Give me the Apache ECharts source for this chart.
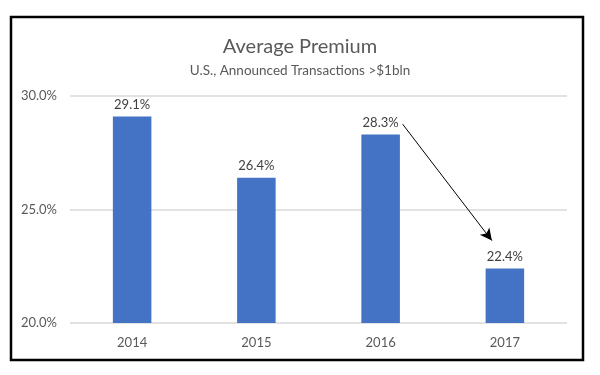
<!DOCTYPE html>
<html>
<head>
<meta charset="utf-8">
<script src="https://cdn.jsdelivr.net/npm/echarts@6/dist/echarts.min.js"></script>
<style>
  html, body {margin: 0; padding: 0; background: #fff;}
  #main {width: 600px; height: 375px;}
</style>
</head>
<body>
<div id="main"></div>
<script>
const years = ['2014', '2015', '2016', '2017'];
const premium = [29.1, 26.4, 28.3, 22.4];
const yTicks = {min: 20, max: 30, interval: 5};
// arrow from the 2016 label down to the 2017 label
const arrowFrom = ['2016', 28.76];
const arrowTo = ['2017', 23.63];

const font = 'Lato, "Open Sans", sans-serif';
const chart = echarts.init(document.getElementById('main'));

chart.setOption({
  animation: false,
  backgroundColor: '#fff',
  title: {
    text: 'Average Premium',
    subtext: 'U.S., Announced Transactions >$1bln',
    left: 'center',
    top: 32,
    itemGap: 7,
    textStyle: {fontFamily: font, fontSize: 20, fontWeight: 'normal', color: '#595959'},
    subtextStyle: {fontFamily: font, fontSize: 13.5, color: '#595959'}
  },
  grid: {left: 70, right: 33, top: 96, bottom: 52},
  xAxis: {
    type: 'category',
    data: years,
    axisLine: {show: false},
    axisTick: {show: false},
    axisLabel: {fontFamily: font, fontSize: 13, color: '#595959', margin: 13}
  },
  yAxis: {
    type: 'value',
    min: yTicks.min,
    max: yTicks.max,
    interval: yTicks.interval,
    axisLabel: {
      fontFamily: font, fontSize: 13, color: '#595959', margin: 13,
      formatter: v => v.toFixed(1) + '%'
    },
    splitLine: {lineStyle: {color: '#d9d9d9', width: 1.5}}
  },
  series: [{
    type: 'bar',
    data: premium,
    barWidth: '31%',
    itemStyle: {color: '#4472C4'},
    label: {
      show: true,
      position: 'top',
      distance: 5,
      fontFamily: font,
      fontSize: 13,
      color: '#404040',
      formatter: p => p.value.toFixed(1) + '%'
    }
  }],
  graphic: [{
    type: 'rect',
    shape: {x: 11, y: 17, width: 572, height: 343},
    style: {fill: 'none', stroke: '#000', lineWidth: 2.5},
    silent: true
  }]
});

// place the arrow after layout so it follows the axes
const p1 = chart.convertToPixel({gridIndex: 0}, arrowFrom);
const p2 = chart.convertToPixel({gridIndex: 0}, arrowTo);
chart.setOption({
  series: [{
    markLine: {
      silent: true,
      symbol: ['none', 'arrow'],
      symbolSize: [9, 12],
      label: {show: false},
      lineStyle: {color: '#000', width: 1, type: 'solid'},
      data: [[{x: p1[0] + 22, y: p1[1]}, {x: p2[0] - 13, y: p2[1]}]]
    }
  }]
});
</script>
</body>
</html>
